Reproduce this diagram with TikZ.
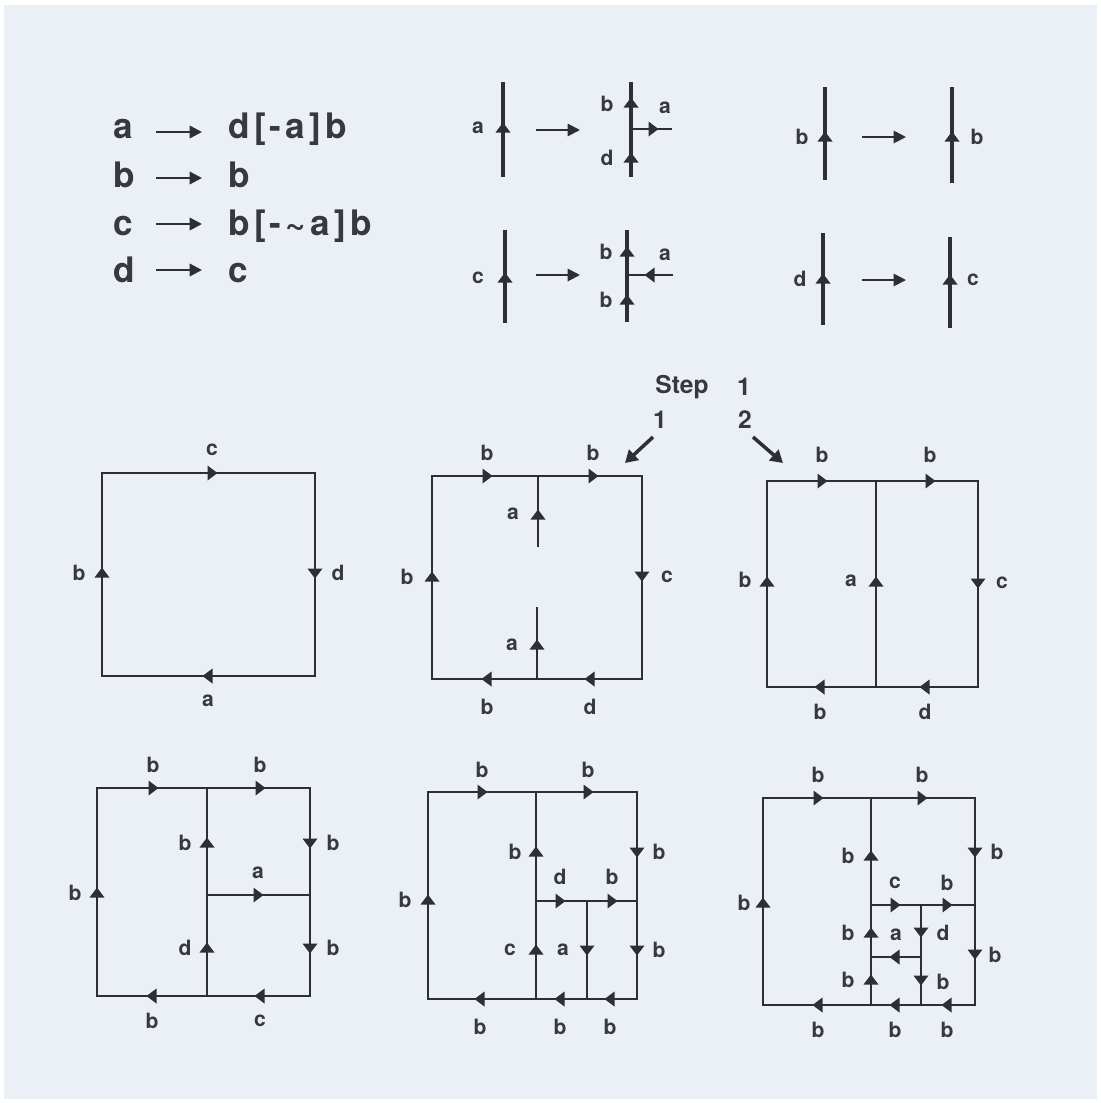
\documentclass[tikz,border=0pt]{standalone}
\usepackage{fontspec}
\setmainfont{TeX Gyre Heros}
\newfontfamily\rulefont[LetterSpace=12]{TeX Gyre Heros}
\usetikzlibrary{arrows.meta}
\definecolor{bgc}{RGB}{235,240,247}
\definecolor{lnc}{RGB}{45,47,50}
\definecolor{txc}{RGB}{55,57,62}
\newcommand\arrowhd[3]{\fill[lnc,shift={(#1,#2)},rotate=#3] (5.5,0) -- (-4.5,7.5) -- (-4.5,-7.5) -- cycle;}
\begin{document}
\begin{tikzpicture}[x=0.02cm,y=-0.02cm,
  lbl/.style={font=\bfseries\fontsize{12}{14}\selectfont,inner sep=0pt,text=txc},
  rulel/.style={font=\rulefont\bfseries\fontsize{20}{24}\selectfont,inner sep=0pt,text=txc,anchor=base west},
  thickln/.style={draw=lnc,line width=2pt},
  sqln/.style={draw=lnc,line width=1.3pt},
  thinln/.style={draw=lnc,line width=0.8pt},
  maparrow/.style={draw=lnc,line width=1.1pt,-{Triangle[length=7pt,width=7pt]}},
  rulearrow/.style={draw=lnc,line width=1.4pt,-{Triangle[length=7pt,width=7pt]}},
  steparrow/.style={draw=lnc,line width=2pt,-{Triangle[length=7pt,width=8pt]}}]
\useasboundingbox (0,0) rectangle (1100,1103);
\fill[white] (0,0) rectangle (1100,1103);
\fill[bgc] (4,5) rectangle (1097,1099);

% ---- rules ----
\node[rulel] (ra) at (113,138) {a};
\node[rulel] (rb) at (113,187) {b};
\node[rulel] (rc) at (113,235) {c};
\node[rulel] (rd) at (113,282) {d};
\node[rulel] (ra2) at (228,138) {d[-a]b};
\node[rulel] (rb2) at (228,187) {b};
\node[rulel] (rc2) at (228,235) {b[-\textasciitilde a]b};
\node[rulel] (rd2) at (228,282) {c};
\coordinate (ra0) at (156,132); \coordinate (ra1) at (202,132);
\coordinate (rb0) at (156,178); \coordinate (rb1) at (202,178);
\coordinate (rc0) at (156,224); \coordinate (rc1) at (202,224);
\coordinate (rd0) at (156,270); \coordinate (rd1) at (202,270);
\draw[rulearrow] (ra0) -- (ra1);
\draw[rulearrow] (rb0) -- (rb1);
\draw[rulearrow] (rc0) -- (rc1);
\draw[rulearrow] (rd0) -- (rd1);

% ---- production a ----
\coordinate (pa0) at (503,82); \coordinate (pa1) at (503,177);
\draw[thickln] (pa0) -- (pa1); \arrowhd{503}{128}{90}
\node[lbl] (pal) at (478,128) {a};
\coordinate (pam0) at (536,130); \coordinate (pam1) at (580,130);
\draw[maparrow] (pam0) -- (pam1);
\coordinate (pb0) at (631,82); \coordinate (pb1) at (631,177); \coordinate (pbr) at (631,129); \coordinate (pbe) at (672,129);
\draw[thickln] (pb0) -- (pb1);
\draw[sqln] (pbr) -- (pbe);
\arrowhd{631}{103}{90}\arrowhd{631}{158}{90}\arrowhd{653}{129}{0}
\node[lbl] (pbl1) at (607,104) {b};
\node[lbl] (pbl2) at (607,158) {d};
\node[lbl] (pbl3) at (665,108) {a};

% ---- production c ----
\coordinate (pc0) at (505,230); \coordinate (pc1) at (505,323);
\draw[thickln] (pc0) -- (pc1); \arrowhd{505}{278}{90}
\node[lbl] (pcl) at (478,278) {c};
\coordinate (pcm0) at (536,275); \coordinate (pcm1) at (580,275);
\draw[maparrow] (pcm0) -- (pcm1);
\coordinate (pd0) at (627,230); \coordinate (pd1) at (627,322); \coordinate (pdr) at (627,275); \coordinate (pde) at (673,275);
\draw[thickln] (pd0) -- (pd1);
\draw[sqln] (pdr) -- (pde);
\arrowhd{627}{252}{90}\arrowhd{627}{300}{90}\arrowhd{650}{275}{180}
\node[lbl] (pdl1) at (606,252) {b};
\node[lbl] (pdl2) at (606,300) {b};
\node[lbl] (pdl3) at (665,255) {a};

% ---- production b ----
\coordinate (pe0) at (825,87); \coordinate (pe1) at (825,180);
\draw[thickln] (pe0) -- (pe1); \arrowhd{825}{137}{90}
\node[lbl] (pel) at (802,137) {b};
\coordinate (pem0) at (862,137); \coordinate (pem1) at (906,137);
\draw[maparrow] (pem0) -- (pem1);
\coordinate (pf0) at (952,87); \coordinate (pf1) at (952,183);
\draw[thickln] (pf0) -- (pf1); \arrowhd{952}{137}{90}
\node[lbl] (pfl) at (977,137) {b};

% ---- production d ----
\coordinate (pg0) at (823,233); \coordinate (pg1) at (823,325);
\draw[thickln] (pg0) -- (pg1); \arrowhd{823}{279}{90}
\node[lbl] (pgl) at (800,279) {d};
\coordinate (pgm0) at (862,280); \coordinate (pgm1) at (906,280);
\draw[maparrow] (pgm0) -- (pgm1);
\coordinate (ph0) at (950,237); \coordinate (ph1) at (950,328);
\draw[thickln] (ph0) -- (ph1); \arrowhd{950}{280}{90}
\node[lbl] (phl) at (973,280) {c};

% ---- step labels ----
\node[lbl,font=\bfseries\fontsize{14}{16}\selectfont] (stp) at (682,387) {Step};
\node[lbl,font=\bfseries\fontsize{14}{16}\selectfont] (stn) at (744,387) {1};
\node[lbl,font=\bfseries\fontsize{14}{16}\selectfont] (st1) at (660,420) {1};
\node[lbl,font=\bfseries\fontsize{14}{16}\selectfont] (st2) at (745,420) {2};
\coordinate (sa0) at (653,437); \coordinate (sa1) at (625,463);
\coordinate (sb0) at (753,437); \coordinate (sb1) at (783,463);
\draw[steparrow] (sa0) -- (sa1);
\draw[steparrow] (sb0) -- (sb1);

% ---- square 1 ----
\coordinate (q1tl) at (102,473); \coordinate (q1tr) at (315,473);
\coordinate (q1br) at (315,676); \coordinate (q1bl) at (102,676);
\draw[sqln] (q1bl) -- (q1tl) -- (q1tr) -- (q1br) -- cycle;
\arrowhd{212}{473}{0}\arrowhd{315}{573}{270}\arrowhd{208}{676}{180}\arrowhd{102}{573}{90}
\node[lbl] (q1c) at (212,450) {c};
\node[lbl] (q1d) at (338,573) {d};
\node[lbl] (q1a) at (208,701) {a};
\node[lbl] (q1b) at (79,573) {b};

% ---- square 2 ----
\coordinate (q2tl) at (432,476); \coordinate (q2tr) at (642,476);
\coordinate (q2br) at (642,679); \coordinate (q2bl) at (432,679);
\draw[sqln] (q2bl) -- (q2tl) -- (q2tr) -- (q2br) -- cycle;
\coordinate (q2i0) at (538,476); \coordinate (q2i1) at (538,547);
\coordinate (q2j0) at (537,607); \coordinate (q2j1) at (537,679);
\draw[sqln] (q2i0) -- (q2i1);
\draw[sqln] (q2j0) -- (q2j1);
\arrowhd{487}{476}{0}\arrowhd{593}{476}{0}\arrowhd{538}{515}{90}\arrowhd{537}{645}{90}
\arrowhd{642}{576}{270}\arrowhd{432}{577}{90}\arrowhd{487}{679}{180}\arrowhd{590}{679}{180}
\node[lbl] (q2l1) at (487,453) {b};
\node[lbl] (q2l2) at (593,453) {b};
\node[lbl] (q2l3) at (513,514) {a};
\node[lbl] (q2l4) at (512,645) {a};
\node[lbl] (q2l5) at (667,577) {c};
\node[lbl] (q2l6) at (407,577) {b};
\node[lbl] (q2l7) at (487,707) {b};
\node[lbl] (q2l8) at (590,707) {d};

% ---- square 3 ----
\coordinate (q3tl) at (767,481); \coordinate (q3tr) at (978,481);
\coordinate (q3br) at (978,687); \coordinate (q3bl) at (767,687);
\draw[sqln] (q3bl) -- (q3tl) -- (q3tr) -- (q3br) -- cycle;
\coordinate (q3i0) at (876,481); \coordinate (q3i1) at (876,687);
\draw[sqln] (q3i0) -- (q3i1);
\arrowhd{822}{481}{0}\arrowhd{930}{481}{0}\arrowhd{876}{582}{90}\arrowhd{978}{583}{270}
\arrowhd{767}{582}{90}\arrowhd{820}{687}{180}\arrowhd{925}{687}{180}
\node[lbl] (q3l1) at (822,455) {b};
\node[lbl] (q3l2) at (930,455) {b};
\node[lbl] (q3l3) at (851,581) {a};
\node[lbl] (q3l4) at (1002,583) {c};
\node[lbl] (q3l5) at (745,580) {b};
\node[lbl] (q3l6) at (820,712) {b};
\node[lbl] (q3l7) at (925,712) {d};

% ---- square 4 ----
\coordinate (q4tl) at (97,788); \coordinate (q4tr) at (310,788);
\coordinate (q4br) at (310,996); \coordinate (q4bl) at (97,996);
\draw[sqln] (q4bl) -- (q4tl) -- (q4tr) -- (q4br) -- cycle;
\coordinate (q4i0) at (207,788); \coordinate (q4i1) at (207,996);
\coordinate (q4h0) at (207,895); \coordinate (q4h1) at (310,895);
\draw[sqln] (q4i0) -- (q4i1);
\draw[thinln] (q4h0) -- (q4h1);
\arrowhd{153}{788}{0}\arrowhd{260}{788}{0}\arrowhd{207}{843}{90}\arrowhd{207}{948}{90}
\arrowhd{258}{895}{0}\arrowhd{310}{843}{270}\arrowhd{310}{948}{270}\arrowhd{97}{893}{90}
\arrowhd{152}{996}{180}\arrowhd{260}{996}{180}
\node[lbl] (q4l1) at (153,765) {b};
\node[lbl] (q4l2) at (260,765) {b};
\node[lbl] (q4l3) at (185,843) {b};
\node[lbl] (q4l4) at (185,948) {d};
\node[lbl] (q4l5) at (258,873) {a};
\node[lbl] (q4l6) at (333,843) {b};
\node[lbl] (q4l7) at (333,948) {b};
\node[lbl] (q4l8) at (75,893) {b};
\node[lbl] (q4l9) at (152,1021) {b};
\node[lbl] (q4l10) at (260,1021) {c};

% ---- square 5 ----
\coordinate (q5tl) at (428,792); \coordinate (q5tr) at (637,792);
\coordinate (q5br) at (637,999); \coordinate (q5bl) at (428,999);
\draw[sqln] (q5bl) -- (q5tl) -- (q5tr) -- (q5br) -- cycle;
\coordinate (q5i0) at (536,792); \coordinate (q5i1) at (536,999);
\coordinate (q5h0) at (536,901); \coordinate (q5h1) at (637,901);
\coordinate (q5s0) at (587,901); \coordinate (q5s1) at (587,999);
\draw[sqln] (q5i0) -- (q5i1);
\draw[thinln] (q5h0) -- (q5h1);
\draw[thinln] (q5s0) -- (q5s1);
\arrowhd{482}{792}{0}\arrowhd{588}{792}{0}\arrowhd{536}{852}{90}\arrowhd{536}{950}{90}
\arrowhd{560}{901}{0}\arrowhd{612}{901}{0}\arrowhd{587}{950}{270}
\arrowhd{637}{852}{270}\arrowhd{637}{950}{270}\arrowhd{428}{900}{90}
\arrowhd{480}{999}{180}\arrowhd{560}{999}{180}\arrowhd{610}{999}{180}
\node[lbl] (q5l1) at (482,770) {b};
\node[lbl] (q5l2) at (588,770) {b};
\node[lbl] (q5l3) at (515,852) {b};
\node[lbl] (q5l4) at (510,950) {c};
\node[lbl] (q5l5) at (560,877) {d};
\node[lbl] (q5l6) at (612,877) {b};
\node[lbl] (q5l7) at (563,950) {a};
\node[lbl] (q5l8) at (659,852) {b};
\node[lbl] (q5l9) at (659,950) {b};
\node[lbl] (q5l10) at (405,900) {b};
\node[lbl] (q5l11) at (480,1027) {b};
\node[lbl] (q5l12) at (560,1027) {b};
\node[lbl] (q5l13) at (610,1027) {b};

% ---- square 6 ----
\coordinate (q6tl) at (763,798); \coordinate (q6tr) at (975,798);
\coordinate (q6br) at (975,1005); \coordinate (q6bl) at (763,1005);
\draw[sqln] (q6bl) -- (q6tl) -- (q6tr) -- (q6br) -- cycle;
\coordinate (q6i0) at (871,798); \coordinate (q6i1) at (871,1005);
\coordinate (q6h0) at (871,905); \coordinate (q6h1) at (975,905);
\coordinate (q6s0) at (921,905); \coordinate (q6s1) at (921,1005);
\coordinate (q6k0) at (871,957); \coordinate (q6k1) at (921,957);
\draw[sqln] (q6i0) -- (q6i1);
\draw[thinln] (q6h0) -- (q6h1);
\draw[thinln] (q6s0) -- (q6s1);
\draw[thinln] (q6k0) -- (q6k1);
\arrowhd{818}{798}{0}\arrowhd{922}{798}{0}
\arrowhd{871}{856}{90}\arrowhd{871}{933}{90}\arrowhd{871}{980}{90}
\arrowhd{895}{905}{0}\arrowhd{947}{905}{0}
\arrowhd{921}{932}{270}\arrowhd{921}{980}{270}\arrowhd{895}{957}{180}
\arrowhd{975}{852}{270}\arrowhd{975}{954}{270}\arrowhd{763}{903}{90}
\arrowhd{818}{1005}{180}\arrowhd{895}{1005}{180}\arrowhd{947}{1005}{180}
\node[lbl] (q6l1) at (818,775) {b};
\node[lbl] (q6l2) at (922,775) {b};
\node[lbl] (q6l3) at (848,856) {b};
\node[lbl] (q6l4) at (848,933) {b};
\node[lbl] (q6l5) at (848,980) {b};
\node[lbl] (q6l6) at (895,883) {c};
\node[lbl] (q6l7) at (947,883) {b};
\node[lbl] (q6l8) at (896,935) {a};
\node[lbl] (q6l9) at (943,933) {d};
\node[lbl] (q6l10) at (943,982) {b};
\node[lbl] (q6l11) at (997,852) {b};
\node[lbl] (q6l12) at (995,955) {b};
\node[lbl] (q6l13) at (744,903) {b};
\node[lbl] (q6l14) at (818,1030) {b};
\node[lbl] (q6l15) at (895,1030) {b};
\node[lbl] (q6l16) at (947,1030) {b};
\end{tikzpicture}
\end{document}
